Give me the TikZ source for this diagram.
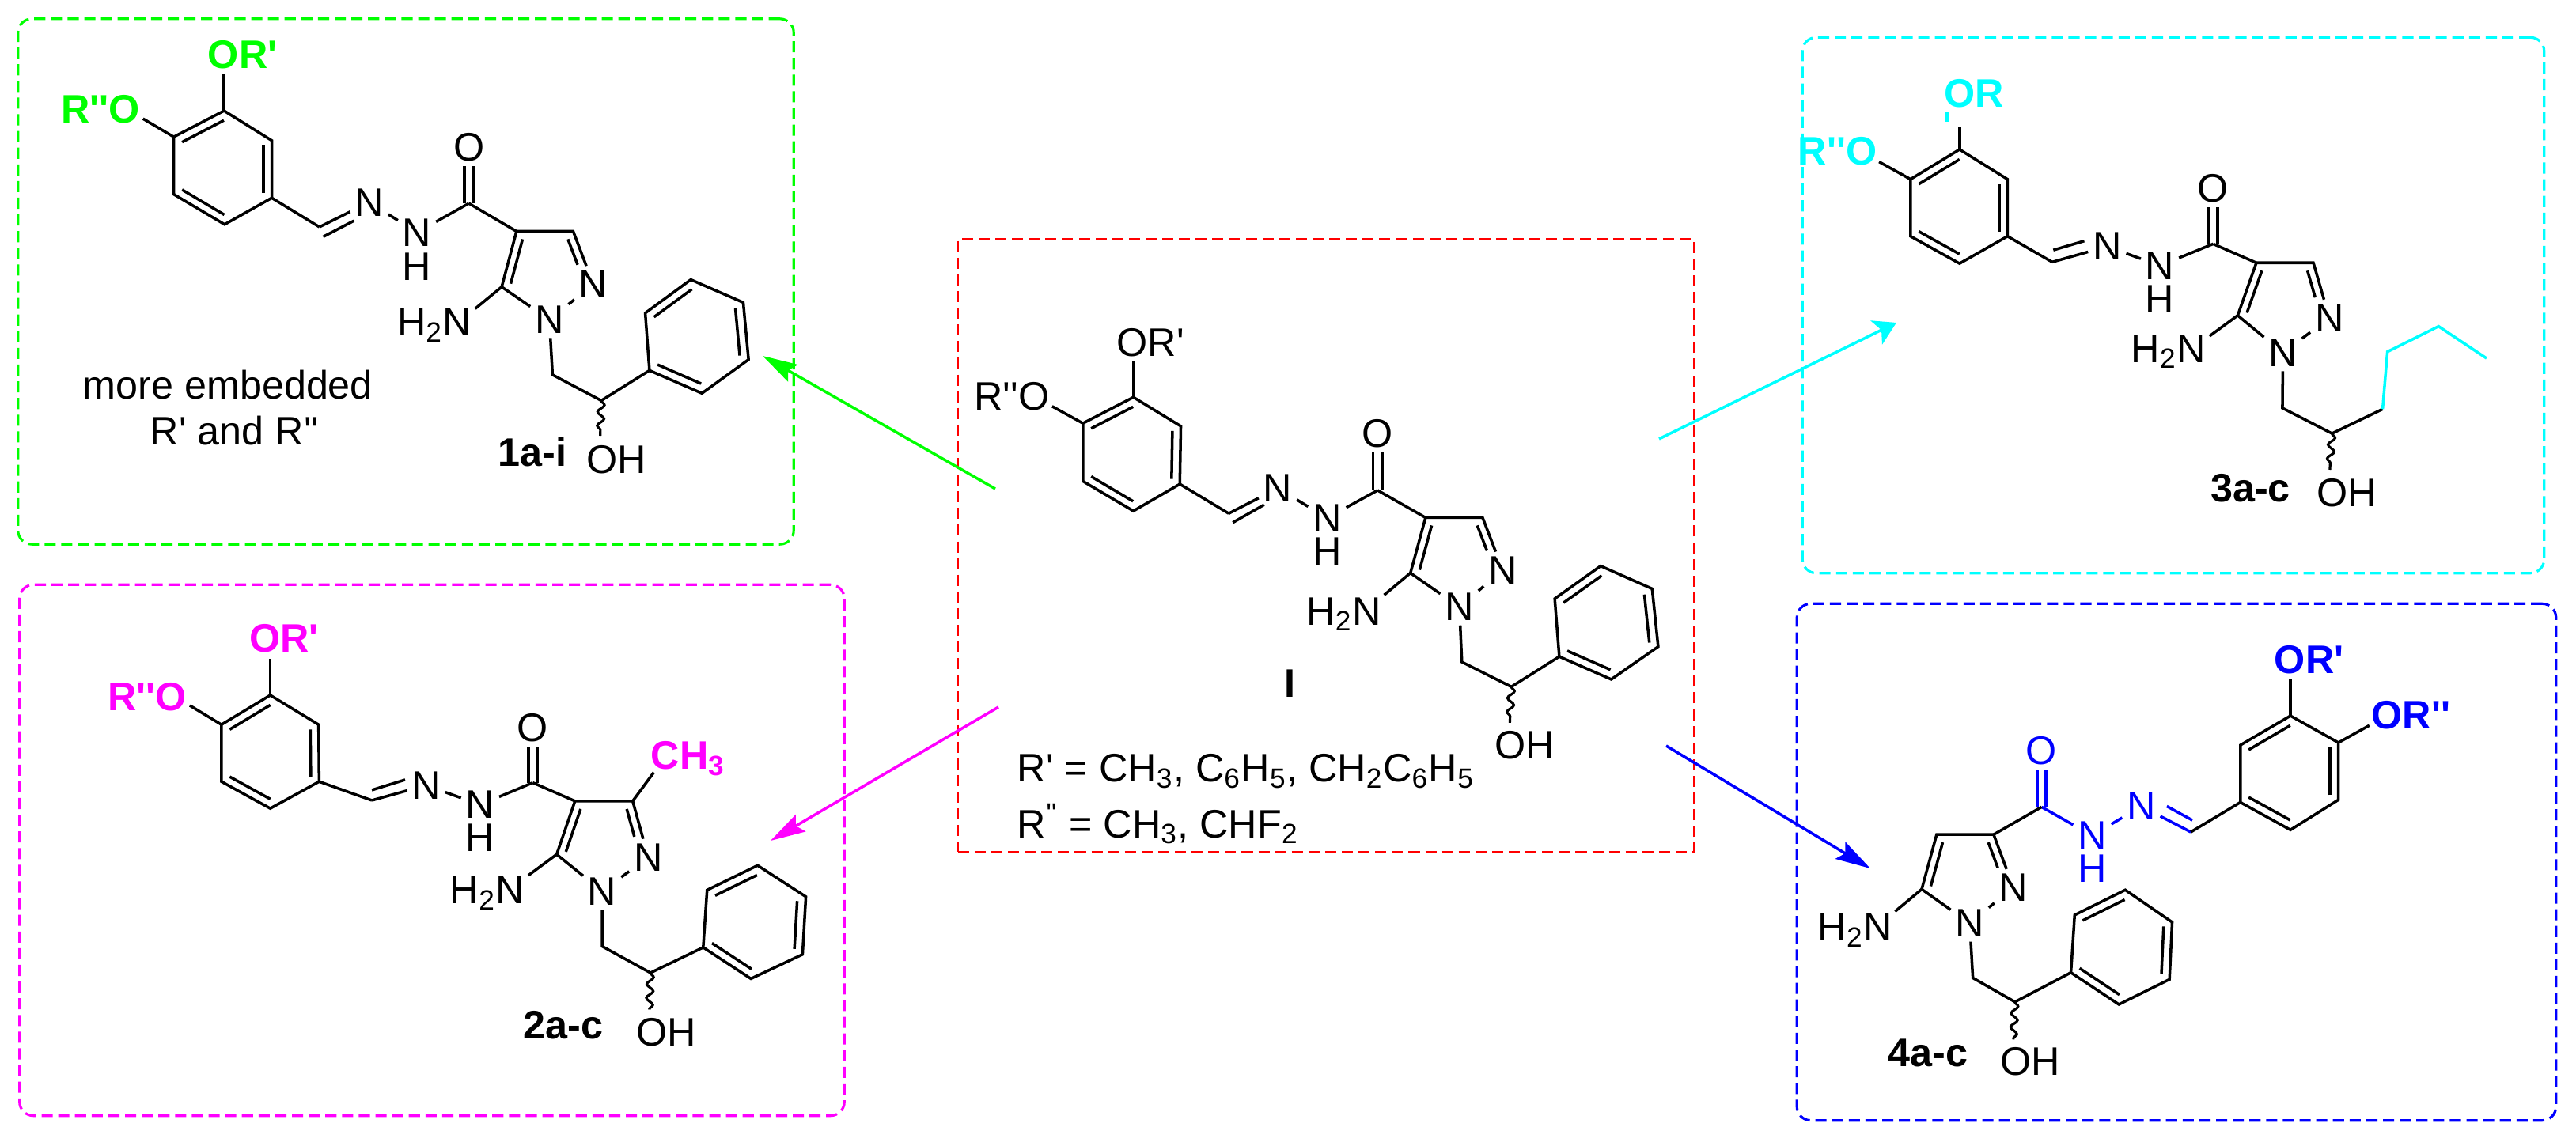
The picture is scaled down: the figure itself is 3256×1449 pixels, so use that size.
\documentclass[tikz,border=0pt]{standalone}
\usepackage{fontspec}
\setmainfont[Ligatures=TeXOff]{Liberation Sans}
\usetikzlibrary{arrows.meta,calc,decorations.pathmorphing}
\definecolor{lgreen}{RGB}{0,255,0}
\definecolor{lcyan}{RGB}{0,255,255}
\definecolor{lmagenta}{RGB}{255,0,255}
\newcommand{\chemfont}{\fontsize{14.3}{17}\selectfont}
\tikzset{
  bond/.style={line width=1pt},
  wavy/.style={line width=.9pt,decorate,decoration={snake,amplitude=1.2pt,segment length=5pt}},
  atom/.style={font=\chemfont,inner sep=1.5pt},
  hatom/.style={atom,inner sep=0pt},
  hit/.style={atom,font=\chemfont\bfseries},
  panel/.style={line width=.9pt,dash pattern=on 4pt off 2pt,rounded corners=5pt,inner sep=0pt},
  arrow/.style={->,line width=1pt,>={Stealth[length=12.5pt,width=7pt,inset=2pt]}},
}
% six ring, double bonds on 1/2, 3/4, 5/6
\newcommand{\hexring}[1]{
  \coordinate (#1c) at ($(#11)!.5!(#14)$);
  \draw[bond] (#11) -- (#12) -- (#13) -- (#14) -- (#15) -- (#16) -- cycle;
  \foreach \a/\b in {1/2,3/4,5/6}
    \draw[bond] ($(#1\a)!.17!(#1c)$) -- ($(#1\b)!.17!(#1c)$);
}
\newcommand{\pyrazole}[1]{
  \coordinate (#1pc) at ($.2*(#1p3)+.2*(#1p4)+.2*(#1p5)+.2*(#1na)+.2*(#1nb)$);
  \draw[bond] (#1p5) -- (#1p4) -- (#1p3) -- (#1nb);
  \draw[bond] (#1nb) -- (#1na) -- (#1p5);
  \draw[bond] ($(#1p4)!.2!(#1pc)$) -- ($(#1p5)!.2!(#1pc)$);
  \draw[bond,shorten >=6.5pt] ($(#1p3)!.2!(#1pc)$) -- ($(#1nb)!.2!(#1pc)$);
  \draw[bond] (#1p5) -- (#1ae);
  \draw[bond] (#1na) -- (#1ma) -- (#1mb);
  \draw[wavy] (#1mb) -- (#1he);
}
% hydrazide link, second argument is its colour
\newcommand{\hydrazide}[2]{
  \draw[bond,#2,double,double distance=2.2pt] (#1co) -- (#1o);
  \draw[bond,#2] (#1co) -- (#1n2) -- (#1n1) -- (#1ch);
  \draw[bond,#2] (#1ia) -- (#1ib);
  \draw[bond] (#1ch) -- (#1r1);
}
\begin{document}
\begin{tikzpicture}[x=0.01cm,y=-0.01cm]
\useasboundingbox (0,0) rectangle (3256,1449);

\node[panel,draw=lgreen,minimum width=9.8cm,minimum height=6.64cm] (box1) at (513,356) {};
\node[panel,draw=red,rounded corners=0pt,minimum width=9.3cm,minimum height=7.74cm] (boxI) at (1676,690) {};
\node[panel,draw=lcyan,minimum width=9.37cm,minimum height=6.77cm] (box3) at (2747,386) {};
\node[panel,draw=lmagenta,minimum width=10.42cm,minimum height=6.71cm] (box2) at (546,1075) {};
\node[panel,draw=blue,minimum width=9.59cm,minimum height=6.53cm] (box4) at (2751,1090) {};

% compound I
\begin{scope}[shift={(1180,280)},xscale=.6378,yscale=.523]
  \foreach \n/\x/\y in {r1/488/635,r2/490/495,r3/396/425,r4/296/488,r5/296/628,r6/396/700,
      oe/396/338,be/235/447,ch/585/706,ia/593/728,ib/655/685,co/880/650,
      p4/975/716,p3/1088/716,p5/945/850,ae/893/903,ma/1047/1065,mb/1145/1125,he/1142/1212,
      f1/1231/912,f2/1322/833,f3/1424/888,f4/1436/1028,f5/1343/1107,f6/1240/1052}
    \coordinate (mI\n) at (\x,\y);
  \foreach \n/\x/\y/\t in {oa/430/292/OR',ob/155/423/R''O,n1/682/645/N,n2/780/717/N,
      o/880/513/O,nb/1128/843/N,na/1042/932/N,am/813/950/H\textsubscript{2}N,oh/1172/1267/OH}
    \node[atom] (mI\n) at (\x,\y) {\t};
  \node[hatom] (mIh2) at (780,797) {H};
  \node[hit] (tagI) at (707,1117) {I};
  \node[atom,anchor=base west,inner sep=0pt] (rone) at (165,1355) {R' = CH\textsubscript{3}, C\textsubscript{6}H\textsubscript{5}, CH\textsubscript{2}C\textsubscript{6}H\textsubscript{5}};
  \node[atom,anchor=base west,inner sep=0pt] (rtwo) at (165,1490) {R\textsuperscript{''} = CH\textsubscript{3}, CHF\textsubscript{2}};
\end{scope}
\hexring{mIr} \hexring{mIf} \pyrazole{mI} \hydrazide{mI}{black}
\draw[bond] (mIr3) -- (mIoe);
\draw[bond] (mIr4) -- (mIbe);
\draw[bond] (mIco) -- (mIp4);
\draw[bond] (mImb) -- (mIf6);

% 1a-i
\begin{scope}[xscale=.6696,yscale=.4592]
  \foreach \n/\x/\y in {r1/513/545,r2/513/387,r3/423/305,r4/328/377,r5/328/535,r6/424/618,
      oe/423/205,be/270/327,ch/603/625,ia/610/652,ib/668/608,co/885/560,
      p4/975/637,p3/1082/637,p5/947/790,ae/897/850,ma/1043/1032,mb/1135/1103,he/1133/1200,
      f1/1218/862,f2/1304/770,f3/1403/833,f4/1413/990,f5/1325/1083,f6/1226/1020}
    \coordinate (mA\n) at (\x,\y);
  \foreach \n/\x/\y/\t in {n1/697/557/N,n2/787/640/N,o/885/405/O,nb/1120/783/N,
      na/1037/880/N,am/820/895/H\textsubscript{2}N,oh/1163/1265/OH}
    \node[atom] (mA\n) at (\x,\y) {\t};
  \node[hatom] (mAh2) at (787,735) {H};
  \node[hit,lgreen] (mAoa) at (458,150) {OR'};
  \node[hit,lgreen] (mAob) at (190,300) {R''O};
  \node[hit] (tagA) at (1005,1245) {1a-i};
  \node[atom] (noteA) at (430,1060) {more embedded};
  \node[atom] (noteB) at (443,1185) {R' and R''};
\end{scope}
\hexring{mAr} \hexring{mAf} \pyrazole{mA} \hydrazide{mA}{black}
\draw[bond] (mAr3) -- (mAoe);
\draw[bond] (mAr4) -- (mAbe);
\draw[bond] (mAco) -- (mAp4);
\draw[bond] (mAmb) -- (mAf6);

% 2a-c
\begin{scope}[shift={(0,720)},xscale=.7015,yscale=.4649]
  \foreach \n/\x/\y in {r1/575/577,r2/574/422,r3/487/342,r4/399/422,r5/399/577,r6/487/650,
      oe/487/242,be/342/370,ch/670/628,ia/670/600,ib/730/572,co/960/580,
      p4/1036/630,p3/1140/630,p5/1003/775,ae/952/832,ma/1085/1025,mb/1172/1097,he/1170/1197,
      f1/1274/872,f2/1365/805,f3/1452/890,f4/1446/1047,f5/1353/1113,f6/1267/1028,me/1178/552}
    \coordinate (mB\n) at (\x,\y);
  \foreach \n/\x/\y/\t in {n1/768/587/N,n2/865/640/N,o/960/430/O,nb/1168/783/N,
      na/1085/875/N,am/878/880/H\textsubscript{2}N,oh/1200/1258/OH}
    \node[atom] (mB\n) at (\x,\y) {\t};
  \node[hatom] (mBh2) at (865,730) {H};
  \node[hit,lmagenta] (mBoa) at (512,187) {OR'};
  \node[hit,lmagenta] (mBob) at (265,347) {R''O};
  \node[hit,lmagenta] (mBmet) at (1240,515) {CH\textsubscript{3}};
  \node[hit] (tagB) at (1015,1240) {2a-c};
\end{scope}
\hexring{mBr} \hexring{mBf} \pyrazole{mB} \hydrazide{mB}{black}
\draw[bond] (mBr3) -- (mBoe);
\draw[bond] (mBr4) -- (mBbe);
\draw[bond] (mBco) -- (mBp4);
\draw[bond] (mBmb) -- (mBf6);
\draw[bond] (mBp3) -- (mBme);

% 3a-c
\begin{scope}[shift={(2200,20)},xscale=.6735,yscale=.4592]
  \foreach \n/\x/\y in {r1/501/607,r2/501/450,r3/411/368,r4/319/450,r5/319/607,r6/411/682,
      oe/411/308,be/260/402,ch/585/678,ia/587/645,ib/645/620,co/887/628,
      p4/968/680,p3/1075/680,p5/933/825,ae/880/882,ma/1017/1080,mb/1110/1150,he/1106/1250,
      c1/1205/1083,c2/1214/925,c3/1310/855,c4/1400/943,ta/388/265,tb/388/292}
    \coordinate (mC\n) at (\x,\y);
  \foreach \n/\x/\y/\t in {n1/688/635/N,n2/787/688/N,o/887/475/O,nb/1105/832/N,
      na/1018/928/N,am/803/925/H\textsubscript{2}N,oh/1138/1313/OH}
    \node[atom] (mC\n) at (\x,\y) {\t};
  \node[hatom] (mCh2) at (787,780) {H};
  \node[hit,lcyan] (mCoa) at (438,213) {OR};
  \node[hit,lcyan] (mCob) at (182,372) {R''O};
  \node[hit] (tagC) at (957,1300) {3a-c};
\end{scope}
\hexring{mCr} \pyrazole{mC} \hydrazide{mC}{black}
\draw[bond] (mCr3) -- (mCoe);
\draw[bond] (mCr4) -- (mCbe);
\draw[bond] (mCco) -- (mCp4);
\draw[bond] (mCmb) -- (mCc1);
\draw[bond,lcyan] (mCc1) -- (mCc2) -- (mCc3) -- (mCc4);
\draw[bond,lcyan,line width=1.4pt] (mCta) -- (mCtb);

% 4a-c
\begin{scope}[shift={(2200,740)},xscale=.6735,yscale=.4522]
  \foreach \n/\x/\y in {r1/938/607,r2/1032/684,r3/1122/600,r4/1122/440,r5/1032/365,r6/938/447,
      oe/1032/262,be/1180/392,ch/845/690,ia/848/657,ib/800/618,co/565/620,
      p3/475/697,p4/368/697,p5/340/850,ae/290/912,ma/436/1098,mb/515/1165,he/512/1270,
      f1/627/922,f2/722/852,f3/810/942,f4/805/1102,f5/710/1172,f6/620/1083}
    \coordinate (mD\n) at (\x,\y);
  \foreach \n/\x/\y/\t in {nb/512/845/N,na/430/945/N,am/215/965/H\textsubscript{2}N,oh/543/1332/OH}
    \node[atom] (mD\n) at (\x,\y) {\t};
  \foreach \n/\x/\y/\t in {n1/752/618/N,n2/660/700/N,o/565/462/O}
    \node[atom,blue] (mD\n) at (\x,\y) {\t};
  \node[hatom,blue] (mDh2) at (660,793) {H};
  \node[hit,blue] (mDoa) at (1067,208) {OR'};
  \node[hit,blue] (mDob) at (1258,362) {OR''};
  \node[hit] (tagD) at (352,1307) {4a-c};
\end{scope}
\hexring{mDr} \hexring{mDf} \pyrazole{mD} \hydrazide{mD}{blue}
\draw[bond] (mDr5) -- (mDoe);
\draw[bond] (mDr4) -- (mDbe);
\draw[bond] (mDco) -- (mDp3);
\draw[bond] (mDmb) -- (mDf6);

% arrows out of compound I
\coordinate (a1s) at (1258,618);
\coordinate (a1e) at (964,450);
\coordinate (a2s) at (1262,894);
\coordinate (a2e) at (974,1063);
\coordinate (a3s) at (2097,555);
\coordinate (a3e) at (2397,408);
\coordinate (a4s) at (2106,943);
\coordinate (a4e) at (2364,1098);
\draw[arrow,lgreen] (a1s) -- (a1e);
\draw[arrow,lmagenta] (a2s) -- (a2e);
\draw[arrow,lcyan,>={Stealth[length=8pt,width=9.5pt,inset=2pt]}] (a3s) -- (a3e);
\draw[arrow,blue] (a4s) -- (a4e);
\end{tikzpicture}
\end{document}
